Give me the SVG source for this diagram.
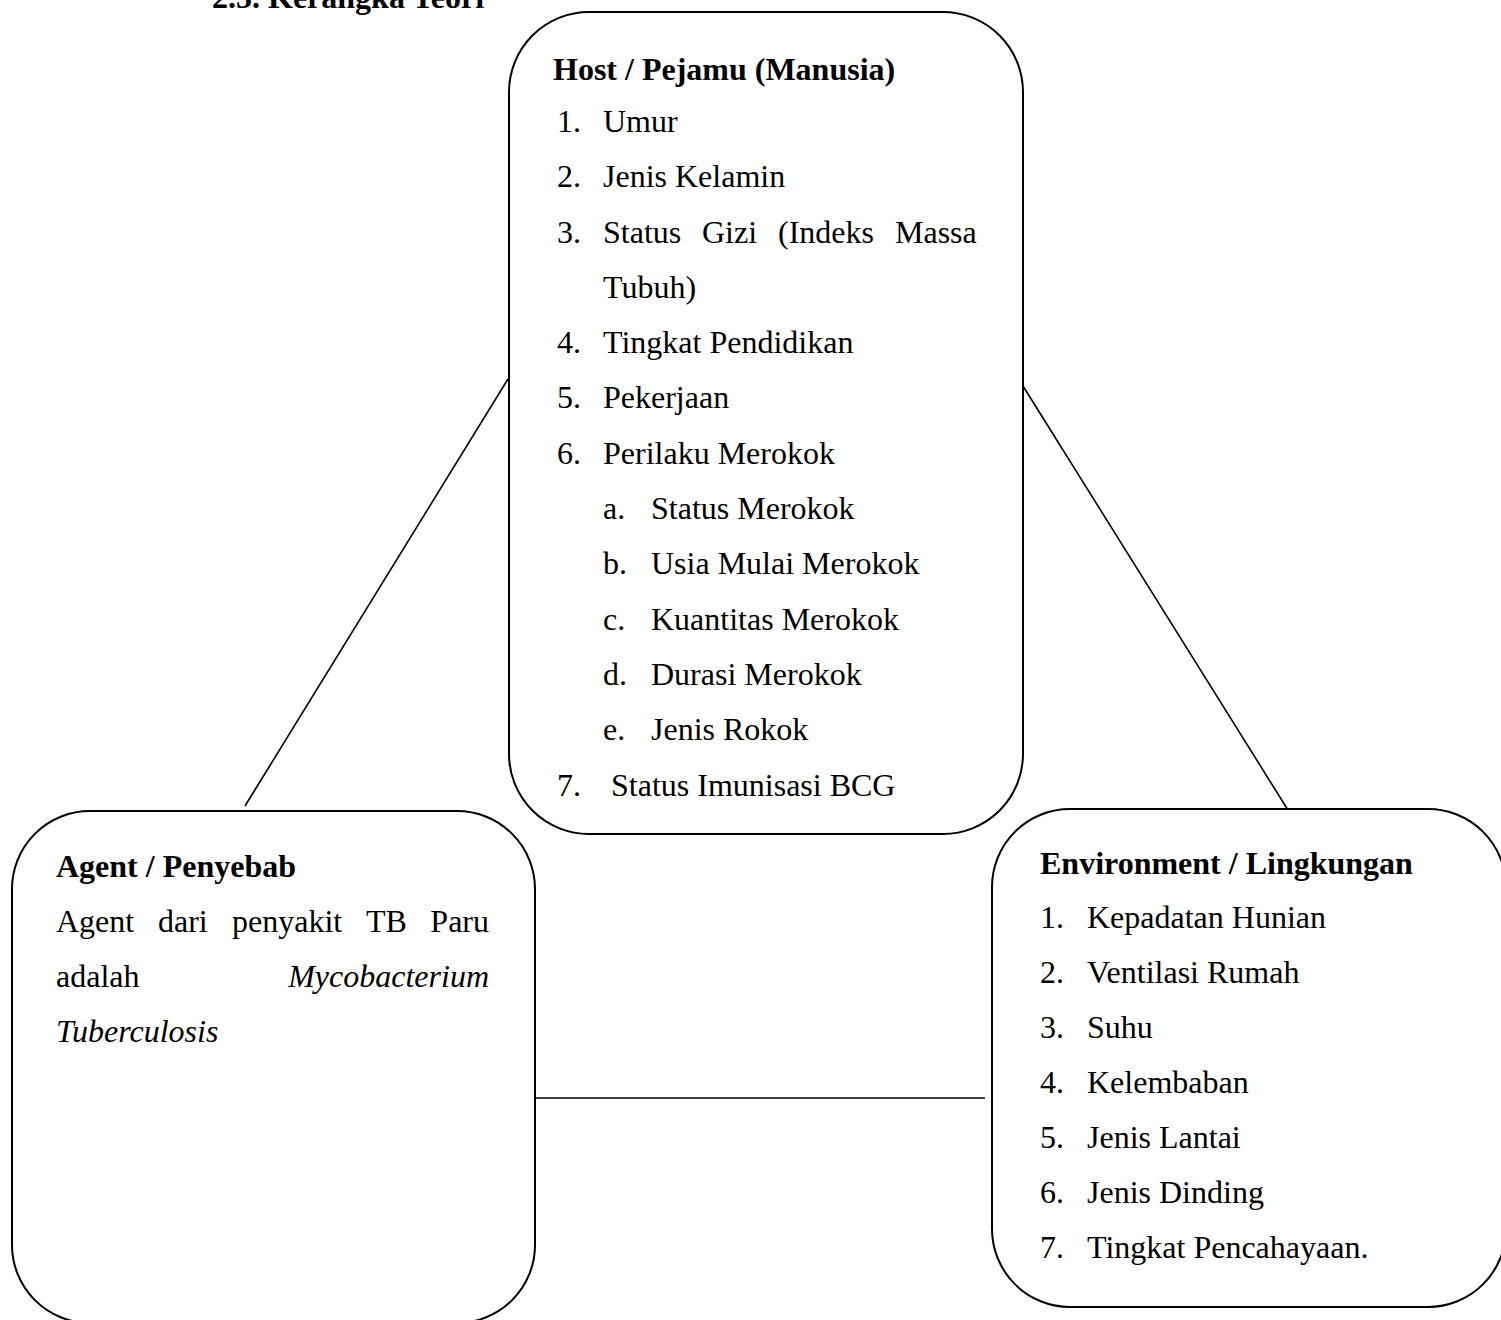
<svg xmlns="http://www.w3.org/2000/svg" width="1501" height="1320" viewBox="0 0 1501 1320">
<style>
  text { font-family: "Liberation Serif", "Times New Roman", serif; font-size: 32px; fill: #000; }
  .b { font-weight: bold; }
  .i { font-style: italic; }
  .box { fill: #fff; stroke: #000; stroke-width: 2; }
  .conn line { stroke: #000; stroke-width: 1.6; }
</style>
<rect width="1501" height="1320" fill="#fff"/>
<text class="b" x="212" y="8">2.5. Kerangka Teori</text>

<g class="conn" id="connectors">
  <line x1="508" y1="379" x2="245" y2="806"/>
  <line x1="1023" y1="386" x2="1288" y2="810"/>
  <line x1="535" y1="1098" x2="985" y2="1098"/>
</g>

<g id="host">
  <rect class="box" x="509" y="12" width="514" height="822" rx="80" ry="80"/>
  <text class="b" x="553" y="80">Host / Pejamu (Manusia)</text>
  <text x="557" y="132">1.</text><text x="603" y="132">Umur</text>
  <text x="557" y="187">2.</text><text x="603" y="187">Jenis Kelamin</text>
  <text x="557" y="243">3.</text>
  <text y="243"><tspan x="603">Status</tspan><tspan x="702">Gizi</tspan><tspan x="778">(Indeks</tspan><tspan x="895">Massa</tspan></text>
  <text x="603" y="298">Tubuh)</text>
  <text x="557" y="353">4.</text><text x="603" y="353">Tingkat Pendidikan</text>
  <text x="557" y="408">5.</text><text x="603" y="408">Pekerjaan</text>
  <text x="557" y="464">6.</text><text x="603" y="464">Perilaku Merokok</text>
  <text x="603" y="519">a.</text><text x="651" y="519">Status Merokok</text>
  <text x="603" y="574">b.</text><text x="651" y="574">Usia Mulai Merokok</text>
  <text x="603" y="630">c.</text><text x="651" y="630">Kuantitas Merokok</text>
  <text x="603" y="685">d.</text><text x="651" y="685">Durasi Merokok</text>
  <text x="603" y="740">e.</text><text x="651" y="740">Jenis Rokok</text>
  <text x="557" y="796">7.</text><text x="611" y="796">Status Imunisasi BCG</text>
</g>

<g id="agent">
  <rect class="box" x="12" y="811" width="523" height="512" rx="78" ry="78"/>
  <text class="b" x="56" y="877">Agent / Penyebab</text>
  <text y="932"><tspan x="56">Agent</tspan><tspan x="158">dari</tspan><tspan x="232">penyakit</tspan><tspan x="366">TB</tspan></text>
  <text x="489" y="932" text-anchor="end">Paru</text>
  <text x="56" y="987">adalah</text>
  <text class="i" x="489" y="987" text-anchor="end">Mycobacterium</text>
  <text class="i" x="56" y="1042">Tuberculosis</text>
</g>

<g id="environment">
  <rect class="box" x="992" y="809" width="514" height="498" rx="78" ry="78"/>
  <text class="b" x="1040" y="874">Environment / Lingkungan</text>
  <text x="1040" y="928">1.</text><text x="1087" y="928">Kepadatan Hunian</text>
  <text x="1040" y="983">2.</text><text x="1087" y="983">Ventilasi Rumah</text>
  <text x="1040" y="1038">3.</text><text x="1087" y="1038">Suhu</text>
  <text x="1040" y="1093">4.</text><text x="1087" y="1093">Kelembaban</text>
  <text x="1040" y="1148">5.</text><text x="1087" y="1148">Jenis Lantai</text>
  <text x="1040" y="1203">6.</text><text x="1087" y="1203">Jenis Dinding</text>
  <text x="1040" y="1258">7.</text><text x="1087" y="1258">Tingkat Pencahayaan.</text>
</g>
</svg>
